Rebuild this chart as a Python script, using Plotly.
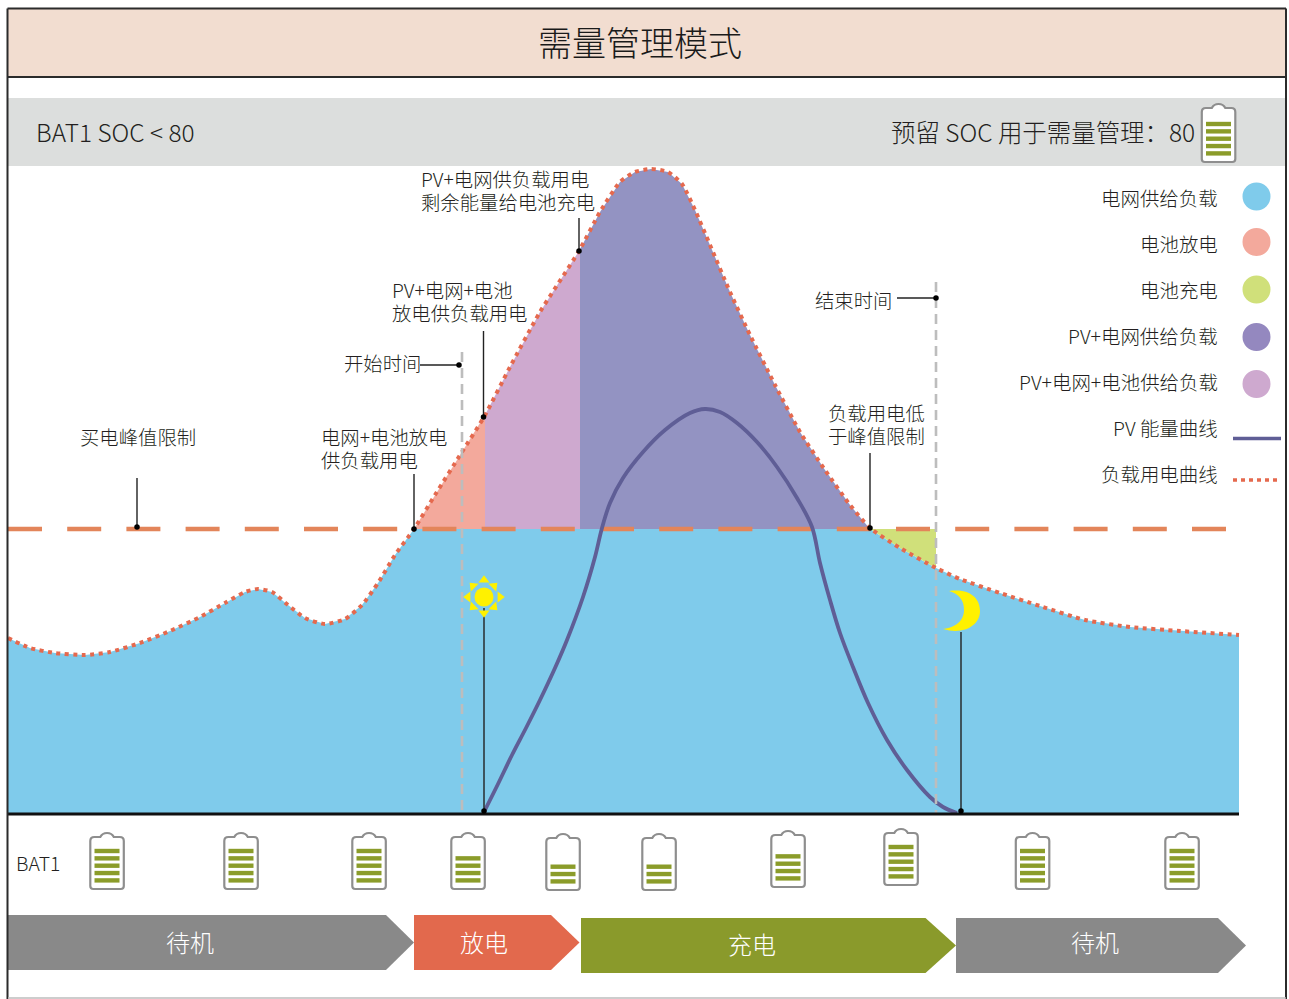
import numpy as np
import plotly.graph_objects as go

FONT = "Noto Sans CJK SC"
BASE = 814   # pixel row of the zero line of the power axis

# ---- chart values (time position, power above the baseline) ----
load_t = [8, 30, 55, 85, 110, 140, 170, 200, 225, 245, 258, 272, 288, 305, 325, 345, 362, 378, 395, 414,
          435, 462, 484, 510, 540, 579, 600, 620, 635, 651, 668, 682, 695, 710, 730, 750, 775, 800, 825, 850, 870,
          900, 936, 960, 1000, 1040, 1085, 1130, 1180, 1239]
load_p = [176, 166, 161, 159, 162, 171, 183, 197, 211, 222, 225, 222, 209, 196, 190, 195, 209, 231, 259, 285,
          319, 362, 397, 447, 502, 563, 602, 632, 642, 645, 642, 630, 604, 569, 522, 479, 429, 382, 344, 309, 286,
          266, 246, 235, 221, 208, 194, 187, 183, 179]
pv_t = [484, 498, 512, 526, 540, 555, 567, 583, 595, 602, 610, 623, 643, 665, 690, 705, 720, 737, 757, 777, 797, 812,
        820, 830, 840, 853, 868, 887, 907, 930, 943, 957]
pv_p = [2, 30, 59, 86, 114, 146, 174, 217, 257, 286, 311, 336, 362, 384, 401, 405, 402, 391, 372, 347, 316, 287,
        251, 214, 181, 147, 111, 74, 44, 17, 7, 1]
peak_limit = 285
start_t, end_t = 462, 936
discharge_t, mixed_t, charge_t, under_t = 414, 485, 580, 870

legend_labels = ["电网供给负载", "电池放电", "电池充电", "PV+电网供给负载", "PV+电网+电池供给负载", "PV 能量曲线", "负载用电曲线"]
legend_colors = ["#7FCBEB", "#F3A99C", "#D0E07A", "#9488BF", "#CEA9CF"]
legend_rows = [199, 245, 291, 337, 383, 429, 475]
legend_dots = [196.5, 242, 289.5, 337, 384]

battery_left = [90, 224, 352, 451, 546, 642, 771, 884, 1015.5, 1165]
battery_top = [833, 833, 833, 833, 834, 834, 831, 829, 833, 833]
battery_bars = [5, 5, 5, 4, 3, 3, 4, 5, 5, 5]

phase_names = ["待机", "放电", "充电", "待机"]
phase_start = [8, 414, 581, 956]
phase_body_end = [386, 551, 925.5, 1218]
phase_tip = [414, 579.5, 956, 1246]
phase_top = [915, 915, 918, 918]
phase_label_x = [190, 484, 752, 1095]
phase_label_y = [943, 943, 945, 943]
phase_colors = ["#898989", "#E2694D", "#8A9A2B", "#898989"]

notes = [("买电峰值限制", 80, 438.5), ("电网+电池放电", 321, 438.5), ("供负载用电", 321, 462), ("开始时间", 344, 364.5),
         ("PV+电网+电池", 392, 291.5), ("放电供负载用电", 392, 314.5), ("PV+电网供负载用电", 421, 180.5),
         ("剩余能量给电池充电", 421, 203.5), ("结束时间", 815, 301.5), ("负载用电低", 828, 414.5), ("于峰值限制", 828, 437.5),
         ("BAT1", 16, 865)]
leaders = [(137, 478, 137, 527), (414, 474, 414, 529), (420, 365, 459, 365), (483.5, 331, 483.5, 417),
           (579, 218, 579, 251), (897, 298, 936, 298), (870, 453, 870, 528), (484, 608, 484, 811), (961, 632, 961, 811)]

# ---- helpers ----
lt, lp = np.array(load_t, float), np.array(load_p, float)


def section(t0, t1):
    m = (lt > t0) & (lt < t1)
    ts = [t0] + lt[m].tolist() + [t1]
    ps = [float(np.interp(t0, lt, lp))] + lp[m].tolist() + [float(np.interp(t1, lt, lp))]
    return [t0] + ts + [t1], [peak_limit] + ps + [peak_limit]


def area(xs, ys, color):
    return go.Scatter(x=xs, y=ys, mode="lines", fill="toself", fillcolor=color, line=dict(width=0),
                      hoverinfo="skip", showlegend=False, yaxis="y")


def px_line(xs, ys, color, width, dash=None):
    return go.Scatter(x=xs, y=ys, yaxis="y2", mode="lines", hoverinfo="skip", showlegend=False,
                      line=dict(color=color, width=width, dash=dash))


def battery_path(x, y, h=56, w=33.5):
    return (f"M {x},{y+8} Q {x},{y+4} {x+4},{y+4} L {x+10},{y+4} Q {x+12},{y} {x+w/2},{y} Q {x+w-12},{y} {x+w-10},{y+4} "
            f"L {x+w-4},{y+4} Q {x+w},{y+4} {x+w},{y+8} L {x+w},{y+h-3} Q {x+w},{y+h} {x+w-3},{y+h} "
            f"L {x+3},{y+h} Q {x},{y+h} {x},{y+h-3} Z")


shapes, annotations = [], []


def rect(x0, y0, x1, y1, fill):
    shapes.append(dict(type="rect", xref="x", yref="y2", x0=x0, y0=y0, x1=x1, y1=y1, fillcolor=fill,
                       line=dict(width=0), layer="below"))


def text(s, x, y, size, anchor="left", color="#231F20"):
    annotations.append(dict(text=s, x=x, y=y - 2, xref="x", yref="y2", showarrow=False, xanchor=anchor,
                            yanchor="middle", align="left",
                            font=dict(family=FONT, size=size, color=color, weight=300), borderpad=0, borderwidth=0))


def battery(x, y, n, h=56, slots=5, first=18, step=7.35):
    shapes.append(dict(type="path", xref="x", yref="y2", path=battery_path(x + 0.3, y, h), fillcolor="white",
                       line=dict(color="#8E8E8E", width=2.2), layer="above"))
    for i in range(n):
        cy = y + first + step * (slots - n + i) + (h - 56)
        shapes.append(dict(type="rect", xref="x", yref="y2", x0=x + 4.5, x1=x + 29.5, y0=cy - 2.2, y1=cy + 2.2,
                           fillcolor="#8B9C2A", line=dict(width=0), layer="above"))


# ---- background bands ----
rect(8, 9, 1286, 77, "#F2DDD0")
rect(8, 98, 1286, 166, "#DCDEDD")
text("需量管理模式", 640, 43, 34, "center", "#1a1a1a")
text("BAT1 SOC < 80", 35.5, 133, 24.4)
text("预留 SOC 用于需量管理：80", 1195, 133, 24.45, "right")

fig = go.Figure()

# ---- power areas ----
fig.add_trace(area([8] + load_t + [1239], [0] + np.minimum(lp, peak_limit).tolist() + [0], "#7FCBEB"))
fig.add_trace(area(*section(discharge_t, mixed_t), "#F3A99C"))
fig.add_trace(area(*section(mixed_t, charge_t), "#CEA9CF"))
fig.add_trace(area(*section(charge_t, under_t), "#9393C2"))
m = (lt > under_t) & (lt < end_t)
fig.add_trace(area([under_t] + lt[m].tolist() + [end_t, end_t, under_t],
                   [peak_limit] + lp[m].tolist() + [float(np.interp(end_t, lt, lp)), peak_limit, peak_limit], "#D0E07A"))

# ---- guide lines ----
for t, top in ((start_t, 352), (end_t, 282)):
    fig.add_trace(px_line([t, t], [top, BASE], "#BDBDBD", 2.6, "10px,6px"))
fig.add_trace(go.Scatter(x=[8, 1228], y=[peak_limit, peak_limit], yaxis="y", mode="lines", hoverinfo="skip",
                         showlegend=False, line=dict(color="#E3855A", width=4.6, dash="34px,25.2px")))
fig.add_trace(px_line([8, 1239], [BASE, BASE], "#111111", 3))

# ---- curves ----
fig.add_trace(go.Scatter(x=pv_t, y=pv_p, yaxis="y", mode="lines", hoverinfo="skip", showlegend=False,
                         line=dict(color="#5F5E96", width=3.8, shape="spline", smoothing=1.0)))
fig.add_trace(go.Scatter(x=load_t, y=load_p, yaxis="y", mode="lines", hoverinfo="skip", showlegend=False,
                         line=dict(color="#E5694E", width=4, dash="4px,4.5px", shape="spline", smoothing=0.6)))

# ---- leaders and their dots ----
for x0, y0, x1, y1 in leaders:
    fig.add_trace(px_line([x0, x1], [y0, y1], "#222222", 1.4))
dots = [l[2:] for l in leaders]
fig.add_trace(go.Scatter(x=[d[0] for d in dots], y=[d[1] for d in dots], yaxis="y2", mode="markers",
                         marker=dict(color="#000000", size=5.5), hoverinfo="skip", showlegend=False))

# ---- sun and moon ----
sun_rays_x = [484, 494, 500, 494, 484, 473, 468, 473]
sun_rays_y = [580, 586, 597, 607, 613, 607, 597, 586]
sun_rays_a = [0, 45, 90, 135, 180, 225, 270, 315]
fig.add_trace(go.Scatter(x=sun_rays_x, y=sun_rays_y, yaxis="y2", mode="markers", hoverinfo="skip", showlegend=False,
                         marker=dict(symbol="triangle-up", angle=sun_rays_a, color="#FFF100", size=9.5)))
fig.add_trace(go.Scatter(x=[484], y=[597], yaxis="y2", mode="markers", hoverinfo="skip", showlegend=False,
                         marker=dict(color="#FFF100", size=19)))
shapes.append(dict(type="path", xref="x", yref="y2", layer="above", fillcolor="#FFF100", line=dict(width=0),
                   path="M 949,591 C 972,588 980,600 980,611 C 980,626 963,635 943,629 C 959,627 964,618 964,610 "
                        "C 964,600 959,594 949,591 Z"))

# ---- legend ----
for lab, row in zip(legend_labels, legend_rows):
    text(lab, 1217.5, row, 19.45, "right")
for c, row in zip(legend_colors, legend_dots):
    shapes.append(dict(type="circle", xref="x", yref="y2", x0=1242.5, x1=1270.5, y0=row - 14, y1=row + 14,
                       fillcolor=c, line=dict(width=0), layer="below"))
fig.add_trace(px_line([1233, 1281], [438.5, 438.5], "#5F5E96", 3.4))
fig.add_trace(px_line([1233, 1281], [480, 480], "#E5694E", 3.6, "4px,4px"))

# ---- annotations ----
for s, x, y in notes:
    text(s, x, y, 19.35)

# ---- batteries ----
for x, y, n in zip(battery_left, battery_top, battery_bars):
    battery(x, y, n)
battery(1201.5, 104, 5, h=58)

# ---- phases ----
for name, x0, xb, xt, top, lx, ly, col in zip(phase_names, phase_start, phase_body_end, phase_tip, phase_top,
                                              phase_label_x, phase_label_y, phase_colors):
    bot = top + 55
    fig.add_trace(area([x0, xb, xt, xb, x0, x0], [top, top, (top + bot) / 2, bot, bot, top], col))
    fig.data[-1].yaxis = "y2"
    text(name, lx, ly, 24, "center", "#FFFFFF")

# ---- frame ----
for x0, y0, x1, y1, c, w in ((7.5, 8.5, 1286, 8.5, "#2B2B2B", 2), (7.5, 77, 1286, 77, "#2B2B2B", 2),
                             (7.5, 8.5, 7.5, 999, "#2B2B2B", 2), (1286, 8.5, 1286, 999, "#2B2B2B", 2),
                             (8, 998, 1286, 998, "#BDBDBD", 1.5)):
    shapes.append(dict(type="line", xref="x", yref="y2", x0=x0, y0=y0, x1=x1, y1=y1,
                       line=dict(color=c, width=w), layer="above"))

hidden = dict(visible=False, showgrid=False, zeroline=False, fixedrange=True)
fig.update_layout(
    width=1289, height=999, margin=dict(l=0, r=0, t=0, b=0), autosize=False,
    paper_bgcolor="white", plot_bgcolor="white", showlegend=False,
    xaxis=dict(range=[0, 1289], domain=[0, 1], **hidden),
    yaxis=dict(range=[BASE - 999, BASE], domain=[0, 1], **hidden),
    yaxis2=dict(range=[999, 0], overlaying="y", **hidden),
    shapes=shapes, annotations=annotations,
)
fig.write_html("out.html", config={"displayModeBar": False, "staticPlot": True},
               post_script="document.body.style.margin='0';document.documentElement.style.overflow='hidden';")
